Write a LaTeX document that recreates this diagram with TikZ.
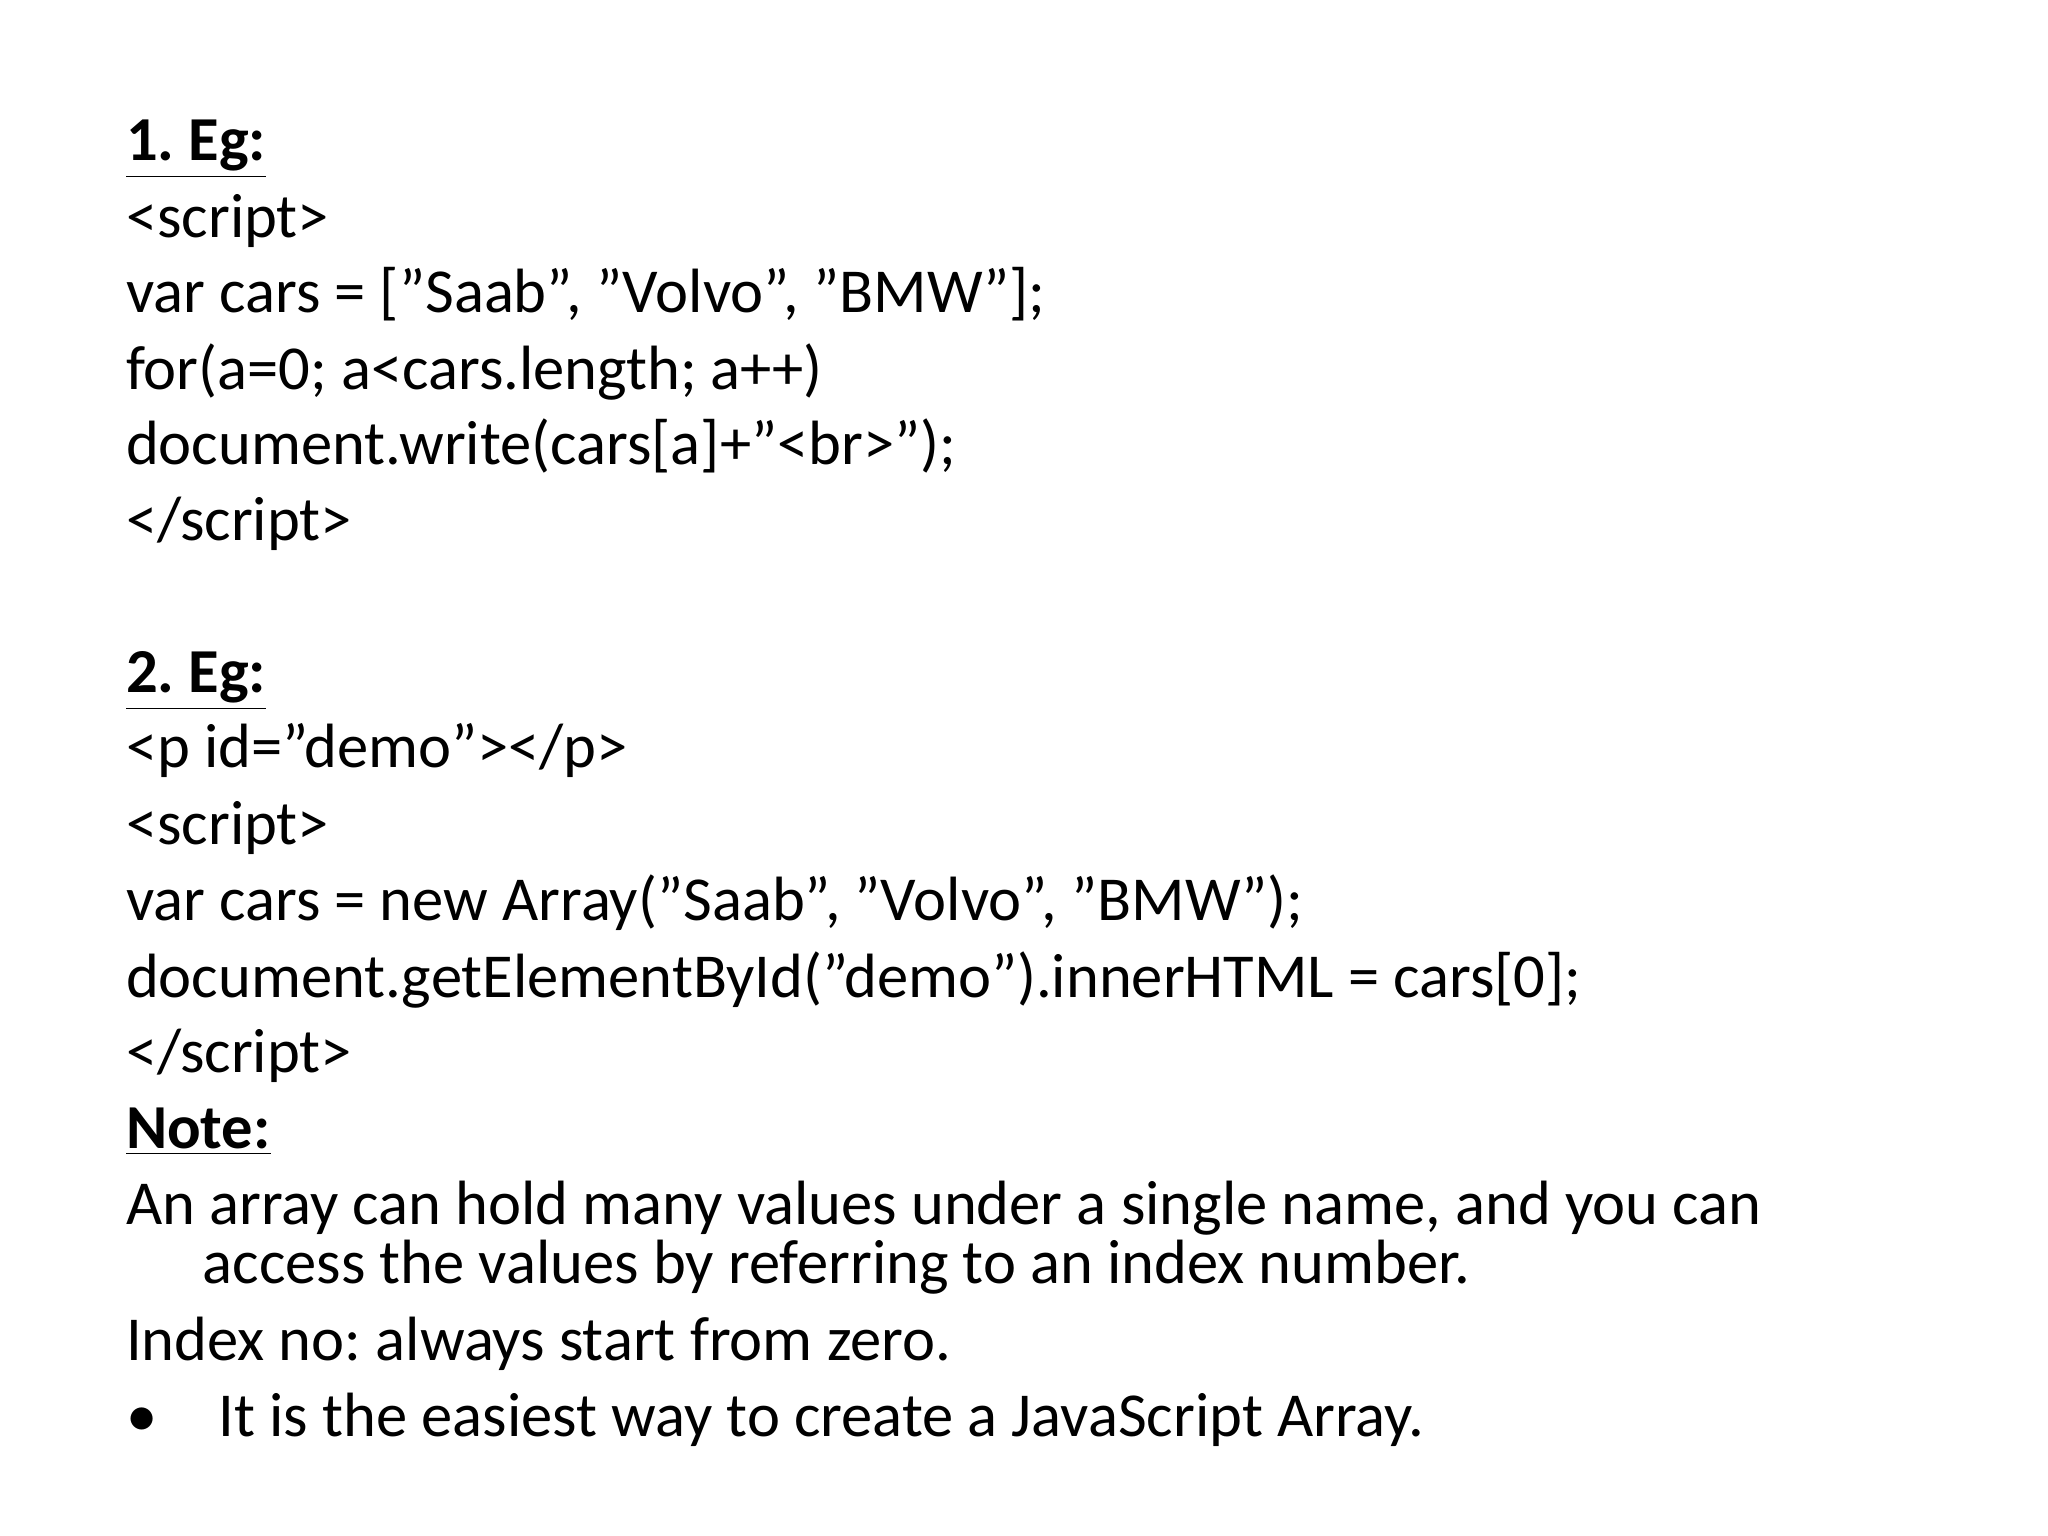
\documentclass[tikz,border=0pt]{standalone}
\usepackage{fontspec}
\setmainfont{Carlito}[Ligatures=ResetAll]
\frenchspacing
\usetikzlibrary{positioning}

\begin{document}
\begin{tikzpicture}[x=1cm,y=1cm]
	  \tikzstyle{line}=[anchor=base west,inner sep=0pt,font=\fontsize{17.8}{21}\selectfont]
	  \tikzstyle{head}=[line,font=\fontsize{17.8}{21}\selectfont\bfseries]

	  \useasboundingbox (0,0) rectangle (20.48,-15.36);

	  \node[head] (h1) at (1.254,-1.61) {\underline{1. Eg:}};
	  \node[line] (a1) at (1.254,-2.376) {<script>};
	  \node[line] (a2) at (1.254,-3.128) {var cars = ["Saab", "Volvo", "BMW"];};
	  \node[line] (a3) at (1.254,-3.894) {for(a=0; a<cars.length; a++)};
	  \node[line] (a4) at (1.254,-4.646) {document.write(cars[a]+"<br>");};
	  \node[line] (a5) at (1.254,-5.41) {</script>};

	  \node[head] (h2) at (1.254,-6.93) {\underline{2. Eg:}};
	  \node[line] (b1) at (1.254,-7.68) {<p id="demo"></p>};
	  \node[line] (b2) at (1.254,-8.45) {<script>};
	  \node[line] (b3) at (1.254,-9.20) {var cars = new Array("Saab", "Volvo", "BMW");};
	  \node[line] (b4) at (1.254,-9.97) {document.getElementById("demo").innerHTML = cars[0];};
	  \node[line] (b5) at (1.254,-10.72) {</script>};

	  \node[head] (h3) at (1.254,-11.48) {\underline{Note:}};
	  \node[line] (n1) at (1.254,-12.24) {An array can hold many values under a single name, and you can};
	  \node[line] (n2) at (2.02,-12.83) {access the values by referring to an index number.};
	  \node[line] (n3) at (1.254,-13.60) {Index no: always start from zero.};
	  \node[line] (bul) at (1.254,-14.36) {•};
	  \node[line] (n4) at (2.18,-14.36) {It is the easiest way to create a JavaScript Array.};
\end{tikzpicture}
\end{document}
